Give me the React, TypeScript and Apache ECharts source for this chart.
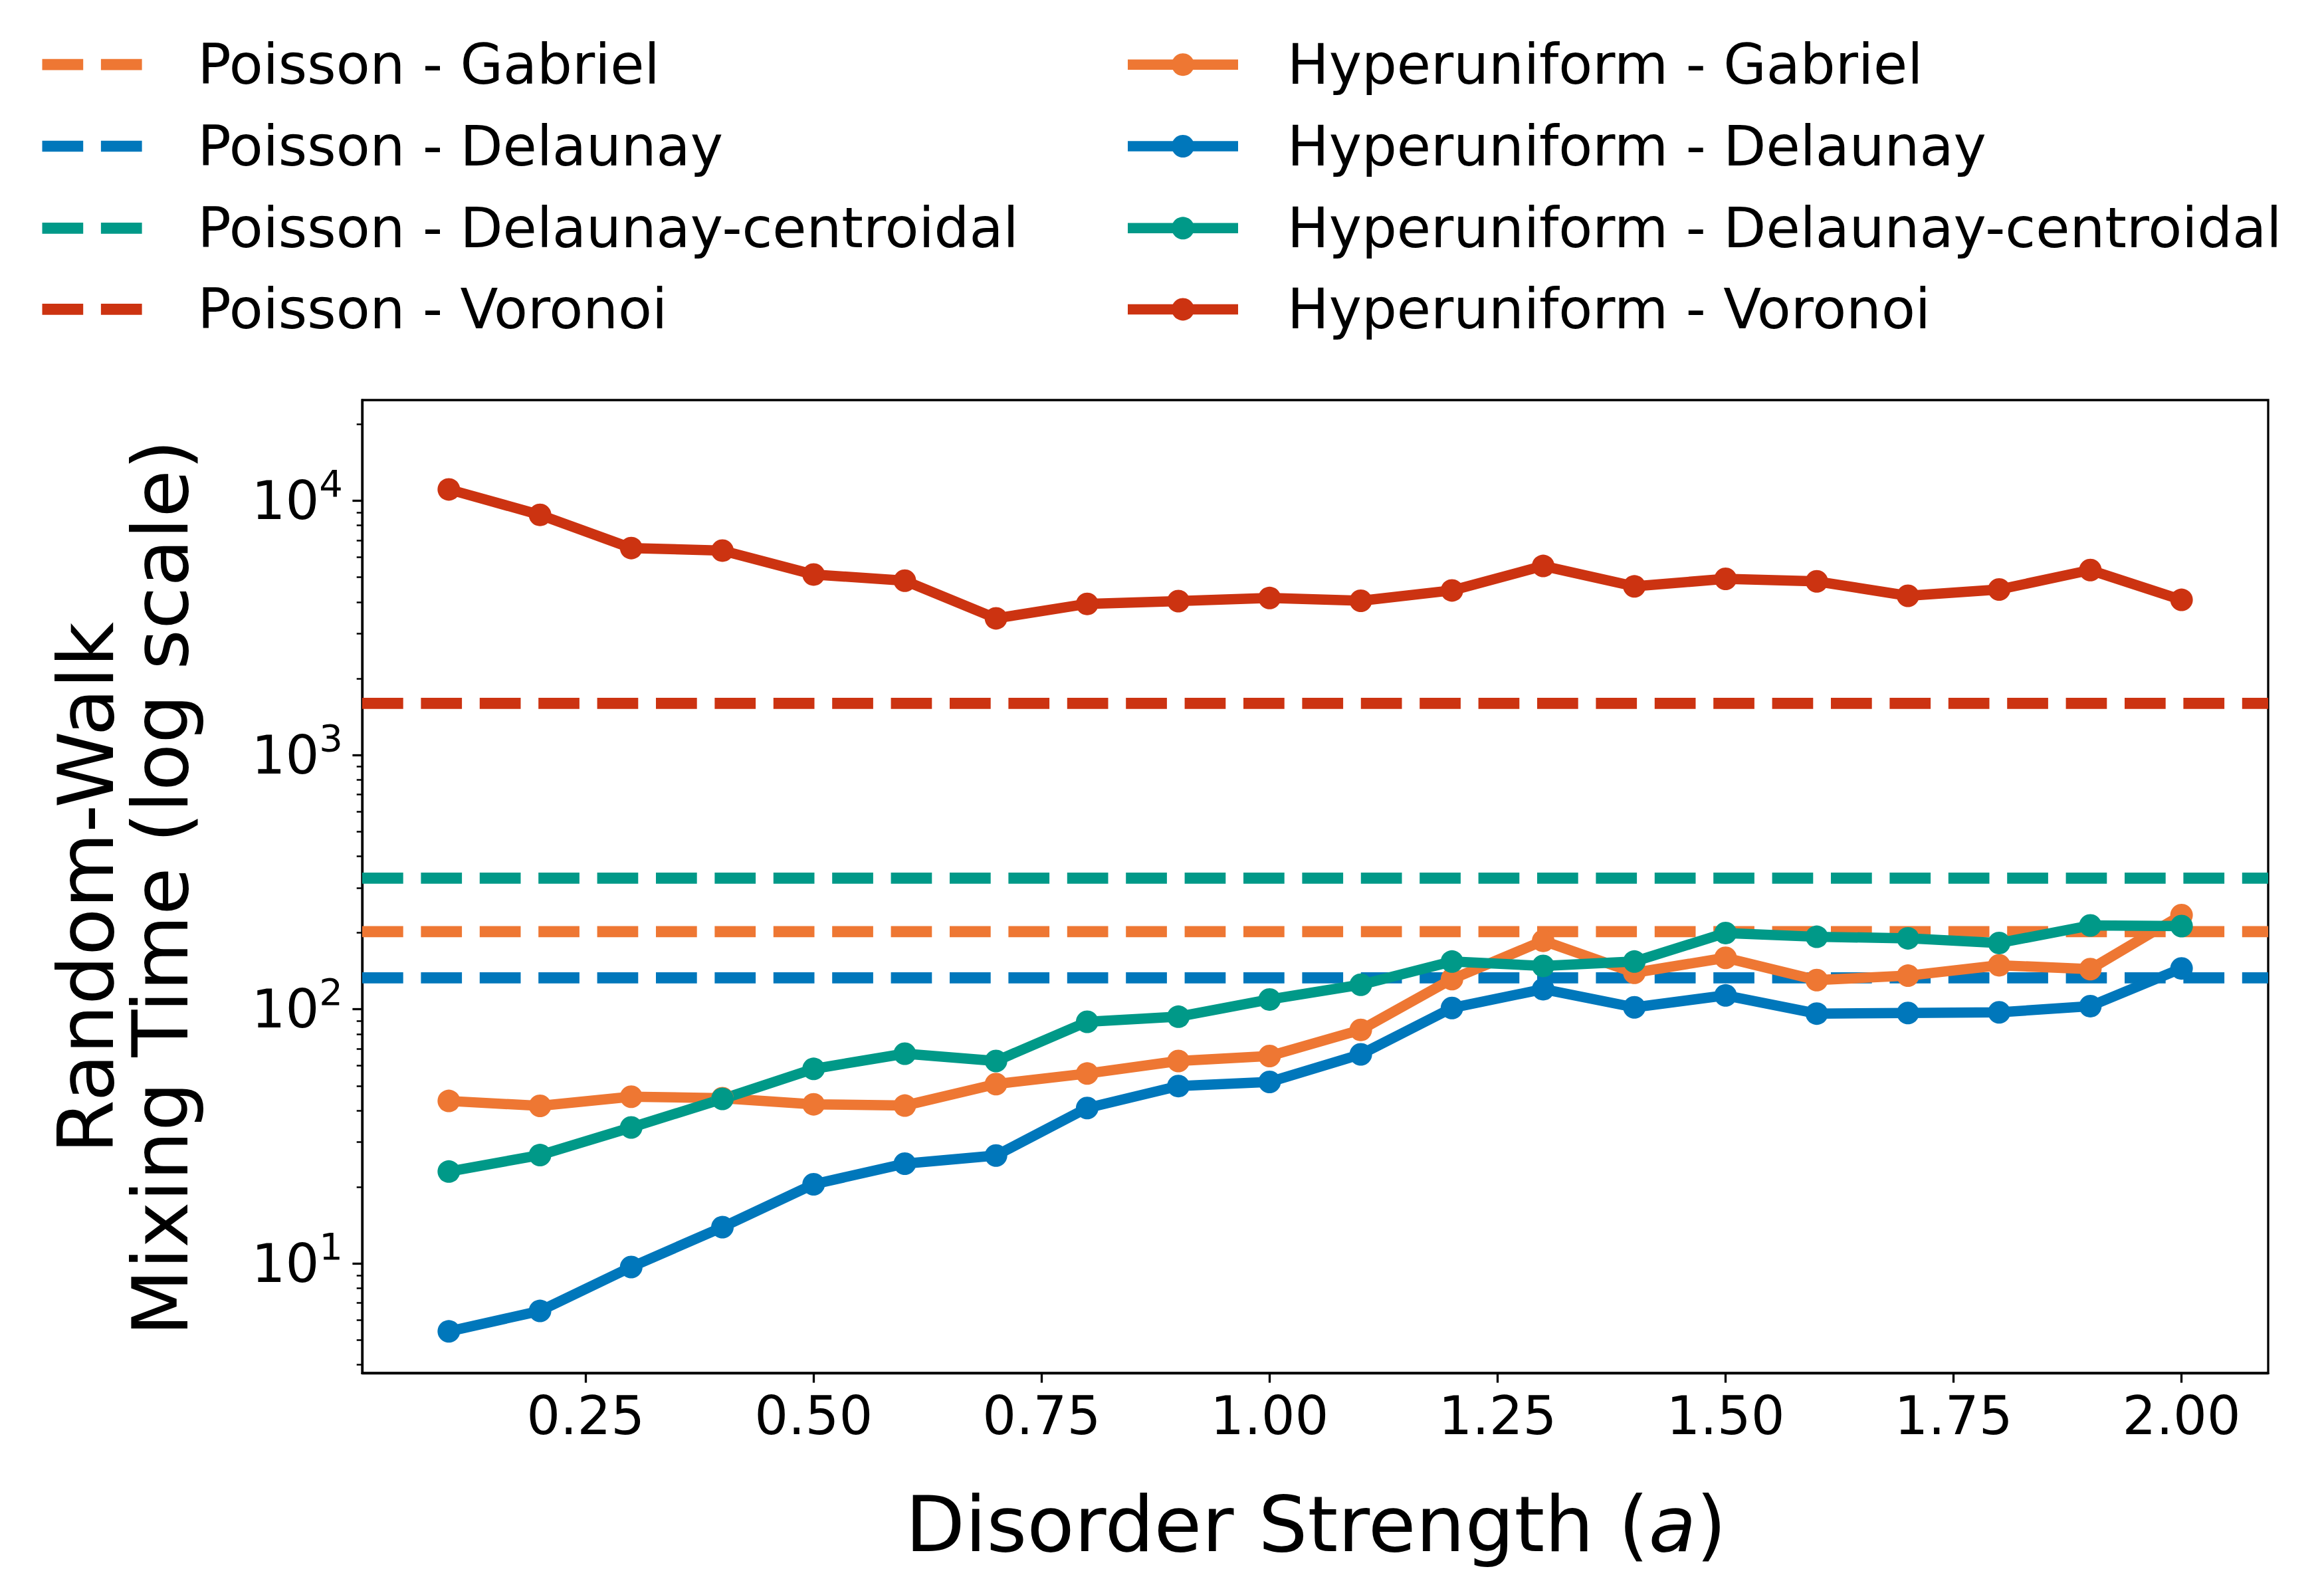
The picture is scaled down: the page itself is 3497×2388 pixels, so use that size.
import React, { useEffect, useRef } from "react";
import * as echarts from "echarts";

// ---------------- data ----------------
const disorder = [0.1, 0.2, 0.3, 0.4, 0.5, 0.6, 0.7, 0.8, 0.9, 1.0, 1.1, 1.2, 1.3, 1.4, 1.5, 1.6, 1.7, 1.8, 1.9, 2.0];

const hyperGabriel = [43.6, 41.7, 45.3, 44.7, 42.3, 41.8, 50.8, 55.9, 62.6, 65.5, 83.0, 131.4, 185.9, 139.2, 159.4, 130.3, 135.6, 149.0, 143.9, 234.7];
const hyperDelaunay = [5.41, 6.51, 9.69, 13.9, 20.5, 24.7, 26.6, 40.9, 49.9, 51.8, 66.5, 101.2, 120.0, 101.8, 113.4, 96.2, 96.7, 97.3, 102.9, 144.8];
const hyperCentroidal = [23.0, 26.7, 34.3, 44.4, 58.3, 66.9, 62.6, 89.3, 93.5, 109.3, 124.9, 154.1, 148.1, 154.1, 199.5, 192.8, 190.2, 182.3, 213.7, 212.5];
const hyperVoronoi = [11090, 8806, 6520, 6372, 5132, 4850, 3450, 3931, 4032, 4147, 4044, 4442, 5543, 4608, 4933, 4821, 4230, 4479, 5341, 4078];

const poissonGabriel = 202;
const poissonDelaunay = 133;
const poissonCentroidal = 328;
const poissonVoronoi = 1597;

const xTicks = [0.25, 0.5, 0.75, 1.0, 1.25, 1.5, 1.75, 2.0];
const yMajorTicks = [10, 100, 1000, 10000];
const yMinorTicks = [4, 5, 6, 7, 8, 9, 20, 30, 40, 50, 60, 70, 80, 90, 200, 300, 400, 500, 600, 700, 800, 900, 2000, 3000, 4000, 5000, 6000, 7000, 8000, 9000, 20000];

const X_MIN = 0.005;
const X_MAX = 2.095;
const Y_MIN = 3.71;
const Y_MAX = 24900;

// ---------------- style ----------------
const ORANGE = "#EE7733";
const BLUE = "#0077BB";
const TEAL = "#009988";
const RED = "#CC3311";
const FONT = "DejaVu Sans";

const SOLID_W = 15.5;
const DASH_W = 16.7;
const DASH = [61.7, 26.7];
const MARK = 34;

const lg = (v: number) => Math.log10(v);

const poissonSeries = [
  { name: "Poisson - Gabriel", value: poissonGabriel, color: ORANGE },
  { name: "Poisson - Delaunay", value: poissonDelaunay, color: BLUE },
  { name: "Poisson - Delaunay-centroidal", value: poissonCentroidal, color: TEAL },
  { name: "Poisson - Voronoi", value: poissonVoronoi, color: RED },
];
const hyperSeries = [
  { name: "Hyperuniform - Gabriel", values: hyperGabriel, color: ORANGE },
  { name: "Hyperuniform - Delaunay", values: hyperDelaunay, color: BLUE },
  { name: "Hyperuniform - Delaunay-centroidal", values: hyperCentroidal, color: TEAL },
  { name: "Hyperuniform - Voronoi", values: hyperVoronoi, color: RED },
];

const LEG_ROWS = [97.2, 220, 343.3, 465.4];
const LEG_COL1 = 63.5;
const LEG_COL2 = 1697;
const HANDLE = 166;
const TEXT_GAP1 = 68;
const TEXT_GAP2 = 74;

function buildOption() {
  const series: any[] = [];
  poissonSeries.forEach((p) => {
    series.push({
      name: p.name,
      type: "line",
      xAxisIndex: 0,
      yAxisIndex: 0,
      data: [
        [X_MIN, lg(p.value)],
        [X_MAX, lg(p.value)],
      ],
      showSymbol: false,
      symbol: "none",
      lineStyle: { color: p.color, width: DASH_W, type: DASH, cap: "butt" },
      itemStyle: { color: p.color },
      silent: true,
      z: 2,
    });
  });
  hyperSeries.forEach((h) => {
    series.push({
      name: h.name,
      type: "line",
      xAxisIndex: 0,
      yAxisIndex: 0,
      data: disorder.map((x, i) => [x, lg(h.values[i])]),
      symbol: "circle",
      symbolSize: MARK,
      showSymbol: true,
      lineStyle: { color: h.color, width: SOLID_W, join: "round" },
      itemStyle: { color: h.color, borderWidth: 0 },
      silent: true,
      z: 3,
    });
  });

  const graphic: any[] = [];
  poissonSeries.forEach((p, i) => {
    const y = LEG_ROWS[i];
    graphic.push({
      type: "line",
      shape: { x1: LEG_COL1, y1: y, x2: LEG_COL1 + HANDLE, y2: y },
      style: { stroke: p.color, lineWidth: DASH_W, lineDash: DASH, lineCap: "butt" },
    });
    graphic.push({
      type: "text",
      x: LEG_COL1 + HANDLE + TEXT_GAP1,
      y,
      style: { text: p.name, fontSize: 83.3, fontFamily: FONT, fill: "#000", align: "left", verticalAlign: "middle" },
    });
  });
  hyperSeries.forEach((h, i) => {
    const y = LEG_ROWS[i];
    graphic.push({
      type: "line",
      shape: { x1: LEG_COL2, y1: y, x2: LEG_COL2 + HANDLE, y2: y },
      style: { stroke: h.color, lineWidth: SOLID_W, lineCap: "butt" },
    });
    graphic.push({
      type: "circle",
      shape: { cx: LEG_COL2 + HANDLE / 2, cy: y, r: MARK / 2 },
      style: { fill: h.color },
    });
    graphic.push({
      type: "text",
      x: LEG_COL2 + HANDLE + TEXT_GAP2,
      y,
      style: { text: h.name, fontSize: 83.3, fontFamily: FONT, fill: "#000", align: "left", verticalAlign: "middle" },
    });
  });

  // axis titles
  graphic.push({
    type: "text",
    x: 1980,
    y: 2294,
    style: {
      text: "{n|Disorder Strength (}{i|a}{n|)}",
      align: "center",
      verticalAlign: "middle",
      rich: {
        n: { fontSize: 116.7, fontFamily: FONT, fill: "#000" },
        i: { fontSize: 116.7, fontFamily: FONT, fontStyle: "italic", fill: "#000" },
      },
    },
  });
  graphic.push({
    type: "text",
    x: 130,
    y: 1336,
    rotation: Math.PI / 2,
    style: { text: "Random-Walk", fontSize: 116.7, fontFamily: FONT, fill: "#000", align: "center", verticalAlign: "middle" },
  });
  graphic.push({
    type: "text",
    x: 242,
    y: 1336,
    rotation: Math.PI / 2,
    style: { text: "Mixing Time (log scale)", fontSize: 116.7, fontFamily: FONT, fill: "#000", align: "center", verticalAlign: "middle" },
  });

  return {
    animation: false,
    backgroundColor: "#ffffff",
    grid: {
      left: 545,
      top: 602,
      width: 2868,
      height: 1464,
      show: true,
      borderColor: "#000",
      borderWidth: 3.3,
      backgroundColor: "transparent",
      containLabel: false,
    },
    xAxis: {
      type: "value",
      min: X_MIN,
      max: X_MAX,
      splitLine: { show: false },
      axisLine: { show: true, onZero: false, lineStyle: { color: "#000", width: 3.3 } },
      axisTick: { show: true, length: 14.6, lineStyle: { color: "#000", width: 3.3 }, customValues: xTicks },
      axisLabel: {
        customValues: xTicks,
        formatter: (v: number) => v.toFixed(2),
        fontSize: 80,
        fontFamily: FONT,
        color: "#000",
        margin: 24,
      },
    },
    yAxis: [
      {
        type: "value",
        position: "left",
        min: lg(Y_MIN),
        max: lg(Y_MAX),
        splitLine: { show: false },
        axisLine: { show: true, onZero: false, lineStyle: { color: "#000", width: 3.3 } },
        axisTick: { show: true, length: 14.6, lineStyle: { color: "#000", width: 3.3 }, customValues: yMajorTicks.map(lg) },
        axisLabel: {
          customValues: yMajorTicks.map(lg),
          formatter: (v: number) => `{b|10}{s|${Math.round(v)}}`,
          margin: 29,
          rich: {
            b: { fontSize: 80, lineHeight: 80, fontFamily: FONT, color: "#000", verticalAlign: "bottom" },
            s: { fontSize: 56, lineHeight: 56, fontFamily: FONT, color: "#000", verticalAlign: "bottom", padding: [0, 0, 38, 0] },
          },
        },
      },
      {
        type: "value",
        position: "left",
        min: lg(Y_MIN),
        max: lg(Y_MAX),
        splitLine: { show: false },
        axisLine: { show: false },
        axisTick: { show: true, length: 8.3, lineStyle: { color: "#000", width: 2.5 }, customValues: yMinorTicks.map(lg) },
        axisLabel: { show: false },
      },
    ],
    series,
    graphic,
  };
}

export default function App() {
  const ref = useRef<HTMLDivElement>(null);
  useEffect(() => {
    if (!ref.current) return;
    const chart = echarts.init(ref.current, undefined, { renderer: "svg" });
    chart.setOption(buildOption() as any);
    return () => chart.dispose();
  }, []);
  return (
    <div
      ref={ref}
      style={{ position: "absolute", left: 0, top: 0, width: "3497px", height: "2388px", background: "#fff" }}
    />
  );
}
